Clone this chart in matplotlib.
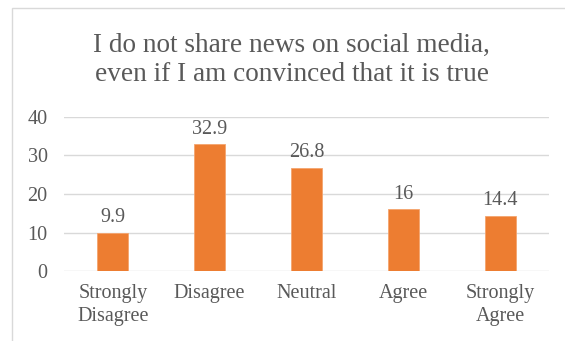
import matplotlib
matplotlib.use("Agg")
import matplotlib.pyplot as plt
from matplotlib.patches import Rectangle

categories = ["Strongly\nDisagree", "Disagree", "Neutral", "Agree", "Strongly\nAgree"]
values = [9.9, 32.9, 26.8, 16, 14.4]
value_labels = ["9.9", "32.9", "26.8", "16", "14.4"]
yticks = [0, 10, 20, 30, 40]
title = "I do not share news on social media,\neven if I am convinced that it is true"

plt.rcParams["font.family"] = ["Liberation Serif", "DejaVu Serif"]
text_color = "#595959"
grid_color = "#D9D9D9"
bar_color = "#ED7D31"

fig = plt.figure(figsize=(5.65, 3.41), dpi=100)
ax = fig.add_axes([0.114, 0.205, 0.857, 0.452])

x = list(range(len(categories)))
ax.bar(x, values, width=0.32, color=bar_color, edgecolor="#F4A46E", linewidth=0.6, zorder=3)
for xi, v, lab in zip(x, values, value_labels):
    ax.annotate(lab, (xi, v), xytext=(0, 4), textcoords="offset points",
                ha="center", va="bottom", fontsize=14.5, color=text_color)

ax.set_xlim(-0.5, len(categories) - 0.5)
ax.set_ylim(0, 40)
ax.set_yticks(yticks)
ax.set_yticklabels([str(t) for t in yticks])
ax.set_xticks(x)
ax.set_xticklabels(categories, linespacing=1.3)
ax.tick_params(axis="both", length=0, labelsize=14.5, labelcolor=text_color)
ax.tick_params(axis="y", pad=12)
ax.tick_params(axis="x", pad=9)
ax.grid(axis="y", color=grid_color, linewidth=1.0, zorder=0)
for s in ax.spines.values():
    s.set_visible(False)

fig.text(0.516, 0.824, title, ha="center", va="center", fontsize=19.6,
         color=text_color, linespacing=1.24)

# chart area outline
fig.patches.append(Rectangle((12 / 565, -0.05), 1.0, 1 - 8 / 341 + 0.05,
                             transform=fig.transFigure, fill=False,
                             edgecolor=grid_color, linewidth=1.0))

fig.savefig("out.png", dpi=100)
